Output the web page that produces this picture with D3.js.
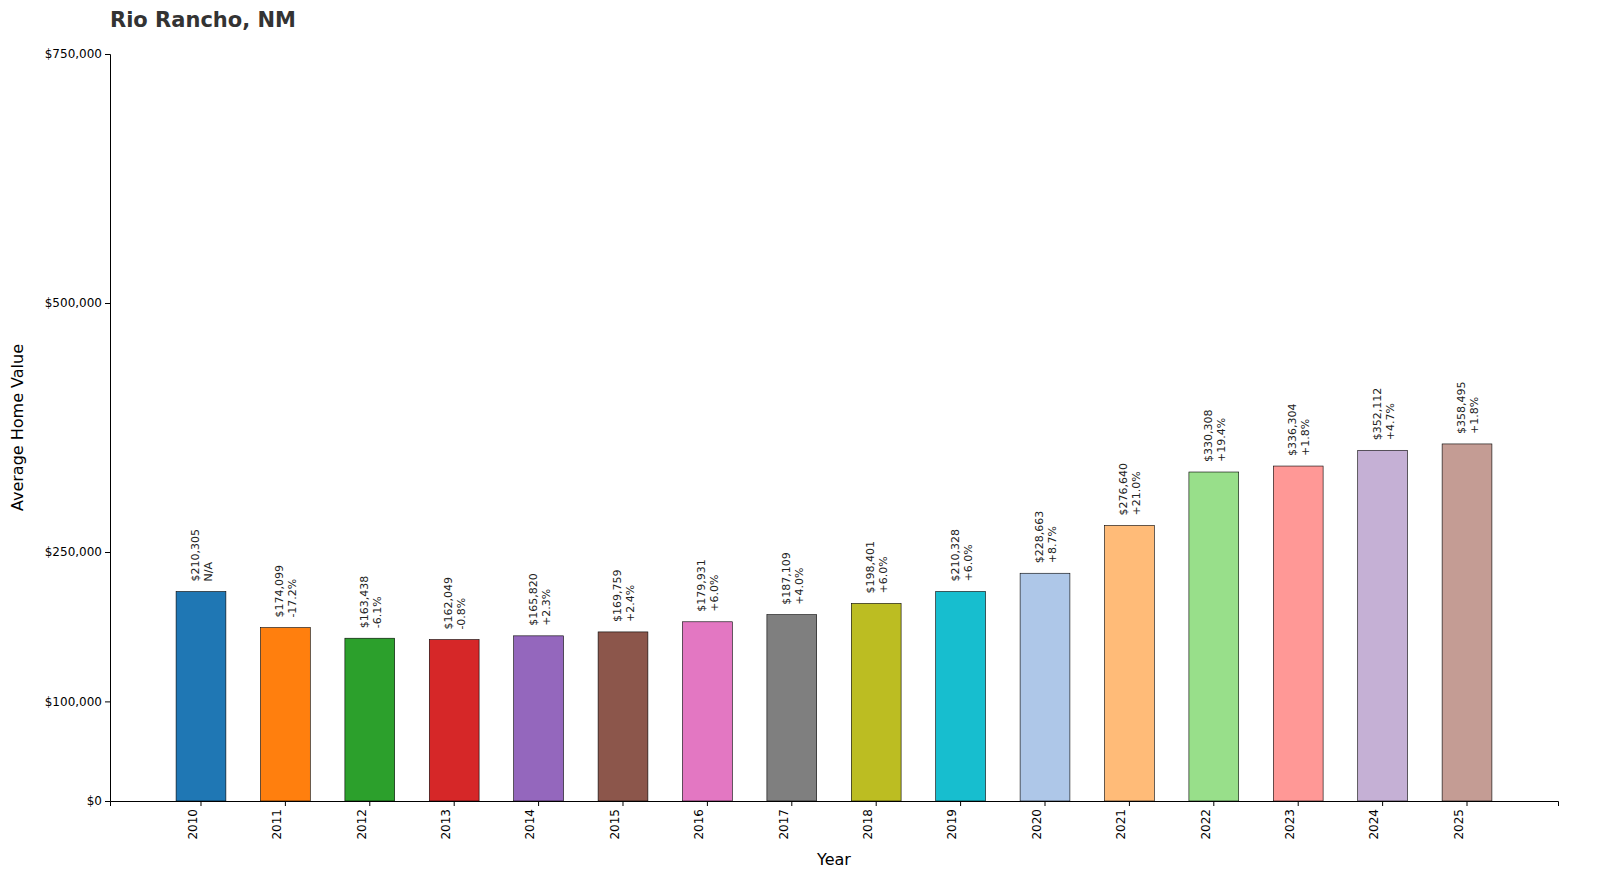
<!DOCTYPE html>
<html><head><meta charset="utf-8">
<script src="https://cdn.jsdelivr.net/npm/d3@7"></script>
<style>body{margin:0;background:#fff;font-family:"DejaVu Sans",sans-serif}</style>
</head><body><svg id="c" width="1600" height="895"></svg>
<script>
const years=["2010","2011","2012","2013","2014","2015","2016","2017","2018","2019","2020","2021","2022","2023","2024","2025"];
const values=[210305,174099,163438,162049,165820,169759,179931,187109,198401,210328,228663,276640,330308,336304,352112,358495];
const changes=["N/A","-17.2%","-6.1%","-0.8%","+2.3%","+2.4%","+6.0%","+4.0%","+6.0%","+6.0%","+8.7%","+21.0%","+19.4%","+1.8%","+4.7%","+1.8%"];
const colors=["#1f77b4","#ff7f0e","#2ca02c","#d62728","#9467bd","#8c564b","#e377c2","#7f7f7f","#bcbd22","#17becf","#aec7e8","#ffbb78","#98df8a","#ff9896","#c5b0d5","#c49c94"];
const yTicks=[0,100000,250000,500000,750000];
const svg=d3.select("#c");
const L=110,R=1558,T=54,B=801;
const x=d3.scaleBand().domain(years).range([L,R]).paddingInner(0.41).paddingOuter(0.783);
const y=d3.scaleLinear().domain([0,750000]).range([B,T]);
svg.append("g").attr("transform",`translate(0,${B})`)
 .call(d3.axisBottom(x).tickSizeOuter(0).tickSize(5))
 .call(g=>g.selectAll("text").attr("transform","rotate(-90)").attr("text-anchor","end").attr("dx","-8").attr("dy","-0.35em").attr("x",0).attr("y",0).style("font-size","12px").style("font-family","DejaVu Sans"));
svg.append("g").attr("transform",`translate(${L},0)`)
 .call(d3.axisLeft(y).tickValues(yTicks).tickFormat(d=>"$"+d3.format(",")(d)).tickSizeOuter(0).tickSize(5))
 .call(g=>g.selectAll("text").style("font-size","12px").style("font-family","DejaVu Sans"));
svg.selectAll(".bar").data(values).join("rect")
 .attr("x",(d,i)=>x(years[i])).attr("width",x.bandwidth())
 .attr("y",d=>y(d)).attr("height",d=>B-y(d))
 .attr("fill",(d,i)=>colors[i]).attr("stroke","#000").attr("stroke-width",0.6);
values.forEach((v,i)=>{
 const cx=x(years[i])+x.bandwidth()/2, ty=y(v)-10;
 const t=svg.append("text").attr("transform",`translate(${cx},${ty}) rotate(-90)`)
  .style("font-size","11px").attr("fill","#222");
 t.append("tspan").attr("x",0).attr("y",-2).text("$"+d3.format(",")(v));
 t.append("tspan").attr("x",0).attr("y",11).text(changes[i]);
});
svg.append("text").attr("x",110).attr("y",27).text("Rio Rancho, NM").style("font-size","21px").style("font-weight","bold").attr("fill","#333");
svg.append("text").attr("x",(L+R)/2).attr("y",865).attr("text-anchor","middle").text("Year").style("font-size","16px");
svg.append("text").attr("transform",`translate(23,${(T+B)/2}) rotate(-90)`).attr("text-anchor","middle").text("Average Home Value").style("font-size","16px");
</script></body></html>
